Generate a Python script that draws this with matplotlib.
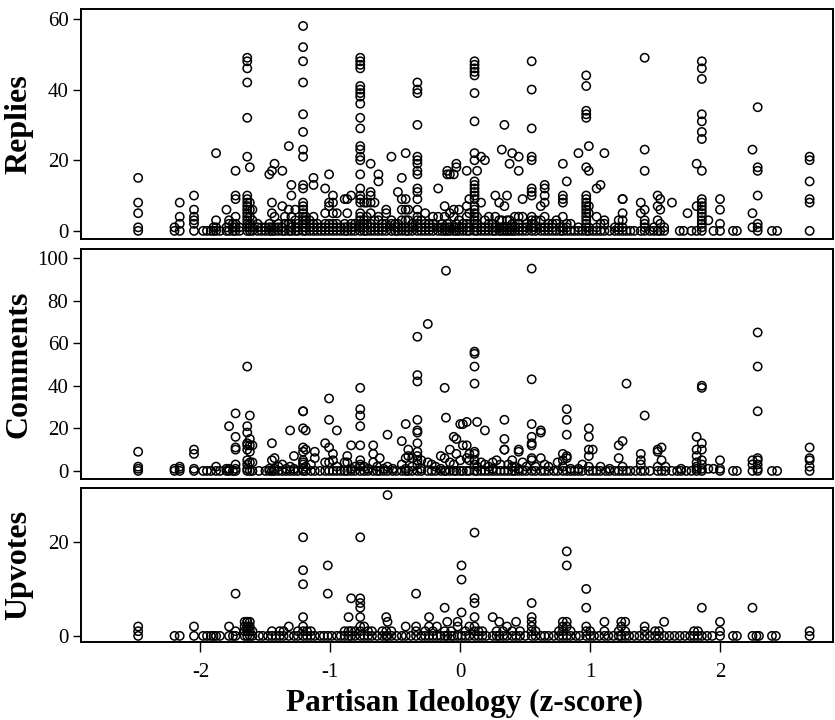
import matplotlib
matplotlib.use("Agg")
import matplotlib.pyplot as plt

plt.rcParams['font.family'] = ['Liberation Serif', 'DejaVu Serif']

# ---------------- data: ideology positions and per-position values ----------------
replies_x = [-2.48, -2.20, -2.16, -2.05, -1.98, -1.95, -1.92, -1.90, -1.88, -1.85, -1.80, -1.78, -1.75, -1.73, -1.70,
             -1.64, -1.62, -1.60, -1.56, -1.53, -1.50, -1.47, -1.45, -1.43, -1.40, -1.37, -1.35, -1.32, -1.30, -1.27,
             -1.25, -1.21, -1.19, -1.16, -1.13, -1.10, -1.07, -1.04, -1.01, -0.98, -0.95, -0.92, -0.89, -0.87, -0.84,
             -0.81, -0.77, -0.74, -0.72, -0.69, -0.66, -0.63, -0.60, -0.57, -0.53, -0.50, -0.48, -0.45, -0.42, -0.40,
             -0.37, -0.33, -0.30, -0.27, -0.24, -0.21, -0.17, -0.14, -0.12, -0.10, -0.08, -0.05, -0.03, -0.01, 0.02,
             0.05, 0.07, 0.11, 0.13, 0.16, 0.19, 0.22, 0.25, 0.27, 0.30, 0.32, 0.34, 0.36, 0.38, 0.40,
             0.42, 0.45, 0.48, 0.51, 0.55, 0.58, 0.62, 0.65, 0.68, 0.71, 0.74, 0.77, 0.79, 0.82, 0.85,
             0.88, 0.91, 0.94, 0.97, 0.99, 1.02, 1.05, 1.08, 1.11, 1.15, 1.19, 1.22, 1.25, 1.28, 1.31,
             1.34, 1.39, 1.42, 1.46, 1.49, 1.52, 1.54, 1.57, 1.63, 1.69, 1.72, 1.75, 1.78, 1.82, 1.86,
             1.91, 1.95, 2.00, 2.10, 2.13, 2.25, 2.29, 2.40, 2.44, 2.69]
replies_vals = [[15, 8, 5, 1, 0], [1, 0], [8, 4, 2, 0], [10, 6, 4, 3, 2, 0], [0], [0], [0], [1, 0], [22, 3, 1, 0], [0],
                [6, 1, 0], [3, 2, 0], [2, 1, 0], [17, 10, 9, 4, 2, 1, 0], [1, 0],
                [49, 48, 46, 42, 32, 21, 10, 9, 8, 7, 6, 5, 4, 3, 2, 1, 0], [18, 8, 6, 4, 2, 1, 0], [6, 3, 1, 0], [2, 1, 0], [1, 0],
                [1, 0], [16, 2, 1, 0], [17, 8, 5, 1, 0], [19, 4, 1, 0], [2, 1, 0], [17, 7, 1, 0], [4, 2, 0], [24, 6, 2, 0],
                [13, 10, 4, 2, 1, 0], [6, 3, 1, 0],
                [2, 1, 0], [58, 52, 48, 42, 33, 28, 23, 21, 13, 12, 8, 7, 6, 5, 4, 3, 2, 1, 0], [4, 3, 2, 1, 0], [3, 1, 0],
                [15, 13, 4, 2, 1, 0], [2, 1, 0], [1, 0], [12, 5, 2, 1, 0], [16, 8, 7, 2, 1, 0], [10, 8, 5, 2, 1, 0], [5, 2, 1, 0], [1, 0],
                [9, 2, 1, 0], [9, 5, 1, 0], [10, 2, 1, 0],
                [2, 1, 0], [49, 48, 47, 46, 41, 40, 39, 38, 36, 32, 29, 24, 23, 21, 20, 16, 12, 10, 9, 8, 5, 4, 3, 2, 1, 0],
                [8, 3, 2, 1, 0], [8, 4, 2, 0], [19, 11, 10, 8, 5, 2, 1, 0], [8, 3, 1, 0], [16, 14, 4, 3, 1, 0], [2, 1, 0],
                [6, 5, 2, 1, 0], [21, 3, 2, 0], [2, 1, 0], [11, 2, 1, 0], [15, 9, 6, 3, 1, 0], [22, 9, 6, 3, 1, 0], [6, 3, 1, 0],
                [2, 1, 0], [42, 40, 39, 30, 21, 20, 19, 17, 16, 12, 11, 9, 6, 4, 3, 2, 1, 0], [3, 1, 0], [5, 2, 1, 0], [2, 1, 0],
                [4, 2, 1, 0], [12, 4, 1, 0], [2, 1, 0], [7, 4, 1, 0], [17, 16, 2, 1, 0], [16, 5, 1, 0], [16, 6, 4, 1, 0],
                [18, 19, 2, 1, 0], [6, 3, 1, 0], [2, 1, 0],
                [17, 7, 4, 2, 1, 0], [9, 5, 1, 0], [48, 47, 46, 45, 44, 39, 31, 22, 20, 14, 13, 12, 11, 10, 9, 7, 6, 5, 4, 3, 2, 1, 0],
                [17, 4, 2, 1, 0], [21, 8, 1, 0], [20, 3, 1, 0], [4, 2, 1, 0], [2, 1, 0], [10, 4, 1, 0], [8, 3, 1, 0], [23, 3, 1, 0],
                [30, 7, 1, 0], [10, 3, 1, 0], [19, 3, 1, 0], [22, 2, 1, 0],
                [4, 1, 0], [21, 17, 4, 2, 1, 0], [9, 4, 1, 0], [2, 1, 0], [48, 40, 29, 21, 20, 12, 11, 10, 4, 3, 2, 1, 0],
                [3, 1, 0], [7, 3, 1, 0], [13, 12, 10, 8, 4, 1, 0], [2, 1, 0], [2, 1, 0], [3, 2, 0], [1, 0],
                [19, 10, 9, 8, 4, 1, 0], [14, 2, 1, 0], [2, 0],
                [0], [22, 1, 0], [0], [44, 41, 34, 33, 32, 18, 10, 9, 8, 7, 6, 5, 4, 3, 2, 1, 0], [24, 17, 7, 5, 1, 0],
                [0], [12, 4, 1, 0], [13, 2, 0], [22, 3, 2, 0], [0], [1, 0], [3, 1, 0], [9, 9, 5, 3, 1, 0], [0], [0],
                [0], [8, 5, 0], [49, 23, 17, 6, 3, 2, 1, 0], [0], [1, 0], [10, 7, 3, 0], [9, 6, 2, 0], [1, 0], [8],
                [0], [0], [5], [0], [19, 7, 0], [48, 46, 43, 33, 31, 28, 26, 17, 9, 8, 7, 6, 5, 4, 3, 2, 1, 0],
                [3], [0], [9, 6, 2, 0], [0], [0], [23, 5, 1], [35, 18, 17, 10, 2, 1, 0], [0], [0],
                [21, 20, 14, 9, 8, 0]]

comments_x = [-2.48, -2.20, -2.16, -2.05, -1.98, -1.95, -1.92, -1.88, -1.85, -1.80, -1.78, -1.75, -1.73, -1.64, -1.62,
              -1.60, -1.55, -1.50, -1.47, -1.45, -1.43, -1.40, -1.37, -1.34, -1.31, -1.28, -1.25, -1.21, -1.19, -1.15,
              -1.12, -1.08, -1.04, -1.01, -0.98, -0.95, -0.92, -0.89, -0.87, -0.84, -0.81, -0.77, -0.74, -0.71, -0.67,
              -0.64, -0.62, -0.59, -0.56, -0.52, -0.49, -0.45, -0.42, -0.40, -0.37, -0.33, -0.30, -0.25, -0.22, -0.19,
              -0.15, -0.12, -0.11, -0.08, -0.05, -0.03, 0.00, 0.02, 0.05, 0.07, 0.11, 0.13, 0.16, 0.19, 0.22,
              0.25, 0.28, 0.31, 0.34, 0.37, 0.40, 0.42, 0.45, 0.48, 0.51, 0.55, 0.58, 0.62, 0.65, 0.68,
              0.72, 0.75, 0.79, 0.82, 0.85, 0.88, 0.91, 0.94, 0.99, 1.02, 1.05, 1.08, 1.12, 1.15, 1.19,
              1.22, 1.25, 1.28, 1.31, 1.35, 1.39, 1.42, 1.46, 1.52, 1.55, 1.58, 1.63, 1.67, 1.70, 1.74,
              1.78, 1.82, 1.86, 1.91, 1.95, 2.00, 2.10, 2.13, 2.25, 2.29, 2.40, 2.44, 2.69]
comments_vals = [[9, 2, 1, 0], [1, 0], [2, 1, 0], [10, 8, 1, 0], [0], [0], [0], [2, 0], [0], [1, 0], [21, 1, 0], [0],
                 [27, 16, 11, 10, 3, 1, 0], [49, 21, 18, 13, 12, 10, 5, 3, 1, 0], [26, 15, 12, 9, 4, 0],
                 [12, 4, 0], [0], [0], [1, 0], [13, 5, 0], [6, 1, 0], [2, 0], [3, 0], [1, 0], [19, 2, 0], [7, 1, 0],
                 [0], [28, 28, 20, 11, 9, 5, 4, 3, 1, 0], [19, 10, 2, 0], [3, 0],
                 [9, 6, 0], [0], [13, 4, 0], [34, 24, 11, 4, 0], [8, 5, 0], [19, 2, 0], [0], [4, 0], [7, 4, 0],
                 [12, 1, 0], [2, 0], [39, 29, 26, 21, 12, 5, 3, 2, 0], [2, 0], [1, 0], [12, 8, 4, 0],
                 [2, 0], [6, 0], [1, 0], [17, 2, 0], [1, 0], [0], [14, 3, 0], [22, 6, 1, 0], [10, 7, 0], [6, 2, 0],
                 [63, 45, 42, 24, 19, 18, 13, 9, 7, 5, 3, 0], [5, 1, 0], [69, 4, 0], [3, 0], [2, 0],
                 [7, 1, 0], [39, 6, 0], [94, 25, 0], [10, 4, 0], [16, 3, 0], [15, 8, 0], [22, 5, 0], [22, 12, 0],
                 [23, 12, 6, 0], [8, 5, 0], [56, 55, 49, 41, 9, 8, 5, 3, 0], [23, 2, 0], [4, 0], [19, 3, 0], [2, 0],
                 [4, 1, 0], [5, 0], [3, 0], [24, 15, 10, 10, 0], [3, 0], [5, 2, 0], [2, 0], [10, 9, 1, 0], [4, 0],
                 [2, 0], [95, 43, 22, 16, 13, 12, 6, 5, 0], [2, 0], [19, 18, 6, 0], [3, 0], [2, 0],
                 [0], [4, 0], [8, 5, 2, 0], [29, 24, 17, 6, 7, 0], [1, 0], [0], [1, 0], [3, 0], [20, 16, 10, 7, 2, 0],
                 [10, 0], [0], [2, 0], [0], [1, 0], [0],
                 [12, 6, 0], [14, 2, 0], [41, 0], [0], [0], [8, 5, 3, 0], [26, 0], [0], [10, 9, 2, 0], [11, 5, 0],
                 [2, 0], [0], [0], [1, 0], [0],
                 [0], [16, 10, 7, 4, 2, 1, 0], [40, 39, 13, 10, 5, 3, 1, 0], [1], [1], [5, 1, 0], [0], [0], [5, 3, 0],
                 [65, 49, 28, 6, 5, 3, 1, 0], [0], [0], [11, 6, 5, 2, 0]]

upvotes_x = [-2.48, -2.20, -2.16, -2.05, -1.98, -1.95, -1.92, -1.90, -1.88, -1.85, -1.78, -1.75, -1.73, -1.66, -1.64,
             -1.62, -1.60, -1.55, -1.52, -1.48, -1.45, -1.42, -1.39, -1.36, -1.32, -1.28, -1.25, -1.21, -1.18, -1.15,
             -1.12, -1.08, -1.05, -1.02, -0.99, -0.95, -0.92, -0.89, -0.86, -0.84, -0.81, -0.77, -0.74, -0.71, -0.68,
             -0.64, -0.60, -0.57, -0.56, -0.53, -0.49, -0.45, -0.42, -0.38, -0.34, -0.30, -0.27, -0.24, -0.21, -0.18,
             -0.15, -0.12, -0.10, -0.07, -0.05, -0.02, 0.01, 0.04, 0.07, 0.11, 0.14, 0.17, 0.20, 0.25, 0.28,
             0.30, 0.33, 0.36, 0.40, 0.43, 0.46, 0.50, 0.55, 0.58, 0.62, 0.65, 0.68, 0.72, 0.76, 0.79,
             0.82, 0.85, 0.89, 0.92, 0.97, 1.00, 1.03, 1.07, 1.11, 1.14, 1.18, 1.22, 1.24, 1.27, 1.30,
             1.34, 1.38, 1.42, 1.46, 1.50, 1.53, 1.57, 1.61, 1.65, 1.69, 1.73, 1.77, 1.80, 1.83, 1.86,
             1.90, 1.94, 2.00, 2.10, 2.13, 2.25, 2.28, 2.30, 2.40, 2.43, 2.69]
upvotes_vals = [[2, 1, 0], [0], [0], [2, 0], [0], [0], [0], [0], [0], [0], [2, 0], [0], [9, 1, 0], [3, 2, 1, 0],
                [3, 3, 2, 1, 0],
                [3, 2, 1, 0], [1, 0], [0], [0], [0], [1, 0], [0], [1, 0], [1, 0], [2, 0], [0], [1, 0],
                [21, 14, 11, 4, 2, 1, 0], [1, 0], [1, 0],
                [0], [0], [0], [15, 9, 0], [0], [0], [0], [1, 0], [4, 1, 0], [8, 1, 0], [1, 0],
                [21, 8, 7, 6, 4, 2, 1, 0], [2, 0], [1, 0], [1, 0],
                [0], [1, 0], [4, 1, 0], [30, 3, 0], [1, 0], [0], [0], [2, 0], [0], [9, 2, 1, 0], [0], [1, 0],
                [4, 2, 0], [1, 0], [2, 0],
                [0], [6, 1, 0], [3, 0], [1, 0], [0], [3, 2, 0], [15, 12, 5, 0], [1, 0], [2, 0],
                [22, 8, 7, 4, 2, 1, 0], [1, 0], [1, 0], [0], [4, 0], [1, 0],
                [3, 0], [1, 0], [2, 0], [1, 0], [3, 0], [1, 0], [0], [7, 4, 3, 2, 1, 0], [1, 0], [0], [0], [0], [0],
                [1, 0], [3, 2, 1, 0],
                [18, 15, 3, 2, 0], [1, 0], [0], [0], [10, 6, 2, 1, 0], [1, 0], [0], [0], [3, 1, 0], [0], [0], [1, 0],
                [3, 2, 0], [3, 1, 0], [0],
                [0], [0], [2, 1, 0], [0], [1, 0], [1, 0], [3, 0], [0], [0], [0], [0], [0], [1, 0], [1, 0], [6, 0],
                [0], [0], [3, 1, 0], [0], [0], [6, 0], [0], [0], [0], [0], [1, 0]]

panel_names = ["Replies", "Comments", "Upvotes"]
panel_yticks = [[0, 20, 40, 60], [0, 20, 40, 60, 80, 100], [0, 20]]
panel_ylims = [(-2.3, 62.8), (-3.8, 104.2), (-1.3, 31.5)]
xticks = [-2, -1, 0, 1, 2]
xlim = (-2.92, 2.87)

panels = [(replies_x, replies_vals), (comments_x, comments_vals), (upvotes_x, upvotes_vals)]

fig = plt.figure(figsize=(8.35, 7.2), dpi=100)
W, H = 835.0, 720.0
boxes = [(9, 239), (249, 479), (488, 642)]
left, right = 81, 833

for i, ((xs, vals), (t, b)) in enumerate(zip(panels, boxes)):
    ax = fig.add_axes([left / W, 1 - b / H, (right - left) / W, (b - t) / H])
    px, py = [], []
    for xv, vv in zip(xs, vals):
        for v in vv:
            px.append(xv)
            py.append(v)
    ax.scatter(px, py, s=36, facecolors='none', edgecolors='black', linewidths=1.1, zorder=3, clip_on=False)
    ax.set_xlim(*xlim)
    ax.set_ylim(*panel_ylims[i])
    ax.set_yticks(panel_yticks[i])
    ax.tick_params(axis='y', direction='out', length=6, width=1.0, labelsize=15, pad=3)
    for sp in ax.spines.values():
        sp.set_linewidth(1.4)
    ax.set_ylabel(panel_names[i], fontsize=23, fontweight='bold')
    ax.yaxis.set_label_coords((33 - left) / (right - left), 0.5)
    if i < 2:
        ax.set_xticks([])
    else:
        ax.set_xticks(xticks)
        ax.set_xticklabels([str(v) for v in xticks])
        ax.tick_params(axis='x', direction='out', length=7, width=1.0, labelsize=15, pad=8)

fig.text(465 / W, 1 - 703 / H, "Partisan Ideology (z-score)", fontsize=22.5, fontweight='bold',
         ha='center', va='center')

fig.savefig("out.png", dpi=100)
